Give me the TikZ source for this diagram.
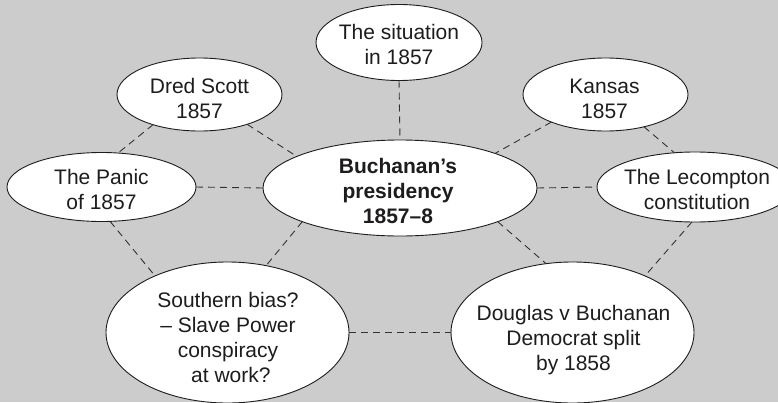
\documentclass[tikz,border=0pt]{standalone}
\usepackage{fontspec}
\setmainfont{Liberation Sans}
\usetikzlibrary{shapes.geometric}
\definecolor{bg}{RGB}{204,204,204}
\definecolor{ink}{RGB}{30,28,28}
\definecolor{linkgray}{RGB}{50,50,50}
\begin{document}
\begin{tikzpicture}[x=1pt,y=-1pt,
  bubble/.style={ellipse,draw=ink,line width=0.9pt,fill=white,inner sep=0pt,outer sep=0pt},
  caption/.style={align=center,text=ink,inner sep=0pt,font=\fontsize{21}{25}\selectfont},
  link/.style={draw=linkgray,line width=0.9pt,dash pattern=on 7pt off 5pt}]
  \useasboundingbox (0,0) rectangle (778,402);
  \clip (0,0) rectangle (778,402);
  \fill[bg] (0,0) rectangle (778,402);

  % ellipses
  \node[bubble,minimum width=166pt,minimum height=76pt]  (sit)   at (399,42.5)   {};
  \node[bubble,minimum width=165pt,minimum height=73pt]  (dred)  at (199.5,94.5) {};
  \node[bubble,minimum width=189pt,minimum height=69pt]  (panic) at (101.5,187)  {};
  \node[bubble,minimum width=274pt,minimum height=96pt]  (cen)   at (400,188)    {};
  \node[bubble,minimum width=165pt,minimum height=73pt]  (kan)   at (605.5,94.5) {};
  \node[bubble,minimum width=196pt,minimum height=70pt]  (lec)   at (695,187)    {};
  \node[bubble,minimum width=243pt,minimum height=141pt] (south) at (227.5,332.5) {};
  \node[bubble,minimum width=243pt,minimum height=141pt] (doug)  at (572.5,332.5) {};

  % dashed links
  \path[link] (sit.south) -- (cen.north);
  \path[link] (dred.213) -- (panic.64);
  \path[link] (dred.328) -- (cen.163);
  \path[link] (panic.east) -- (cen.west);
  \path[link] (panic.284) -- (south.142);
  \path[link] (cen.199) -- (south.60);
  \path[link] (south.east) -- (doug.west);
  \path[link] (cen.341) -- (doug.111);
  \path[link] (lec.265) -- (doug.38);
  \path[link] (cen.east) -- (lec.west);
  \path[link] (kan.207) -- (cen.20);
  \path[link] (kan.320) -- (lec.121);

  % labels
  \node[caption] (sit-t)   at (399,44.9)   {The situation\\in 1857};
  \node[caption] (dred-t)  at (199.5,98.4) {Dred Scott\\1857};
  \node[caption] (panic-t) at (101.5,189.9) {The Panic\\of 1857};
  \node[caption,font=\fontsize{21}{25}\selectfont\bfseries] (cen-t) at (398,190.7) {Buchanan’s\\presidency\\1857–8};
  \node[caption] (kan-t)   at (604.5,98.4) {Kansas\\1857};
  \node[caption] (lec-t)   at (697,189.9)  {The Lecompton\\constitution};
  \node[caption] (south-t) at (228,337.8)  {Southern bias?\\– Slave Power\\conspiracy\\\ at work?};
  \node[caption] (doug-t)  at (573.5,340.5) {Douglas v Buchanan\\Democrat split\\by 1858};
\end{tikzpicture}
\end{document}
